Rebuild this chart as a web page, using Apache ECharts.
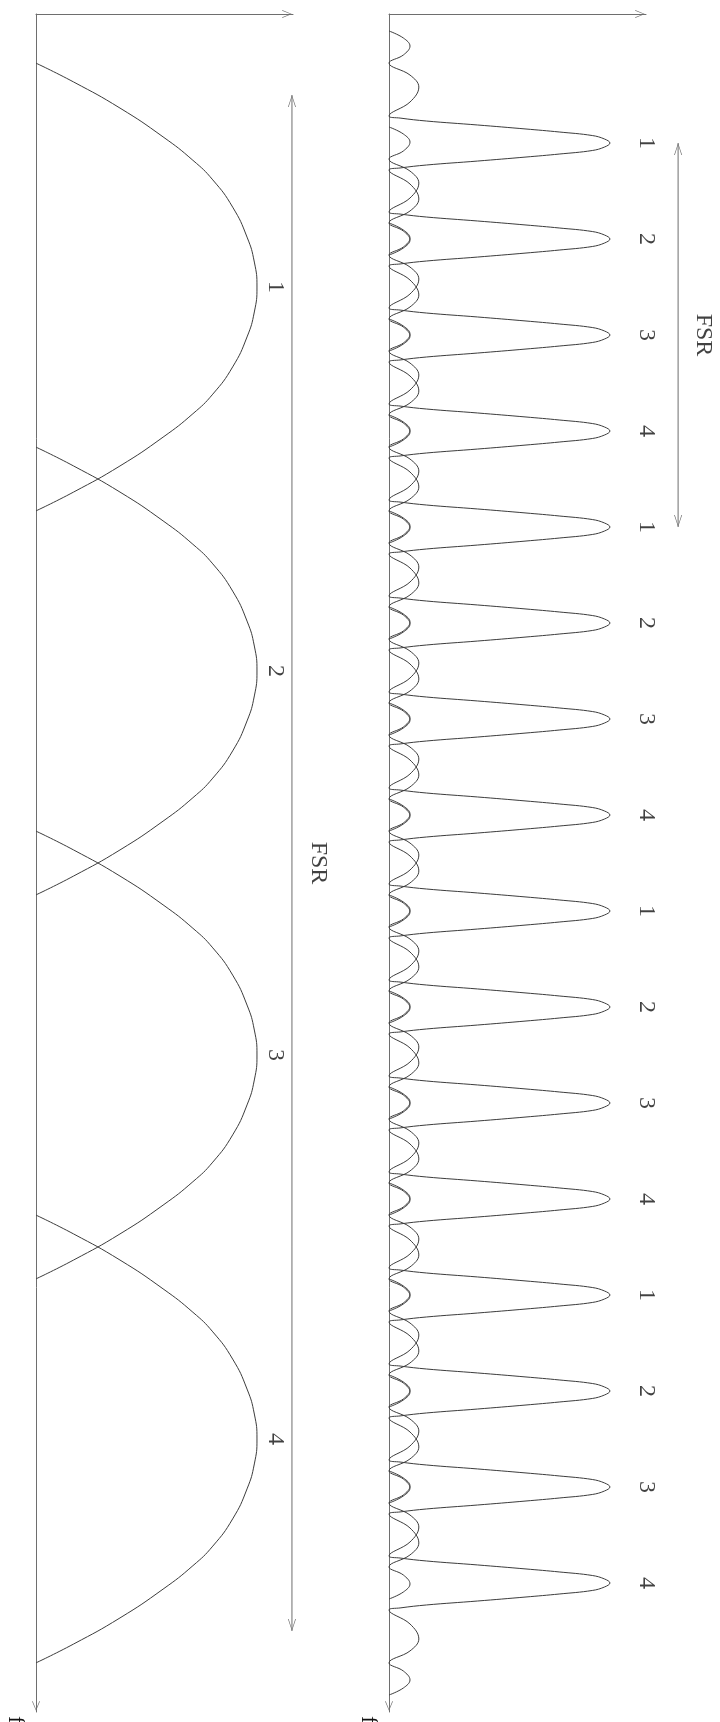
<!DOCTYPE html>
<html>
<head>
<meta charset="utf-8">
<script src="https://cdn.jsdelivr.net/npm/echarts@6/dist/echarts.min.js"></script>
<style>
  html, body { margin: 0; padding: 0; background: #fff; }
  #main { width: 720px; height: 1722px; }
</style>
</head>
<body>
<div id="main"></div>
<script>
// ---- data (frequency in channel spacings, level relative to peak) ----

// left: 4 wide channel passbands
var leftPeaks = [1, 2, 3, 4];
var leftNames = ['1', '2', '3', '4'];
// half profile of one passband (offset from its centre, level)
var leftOffset = [0, 0.065, 0.130, 0.208, 0.279, 0.330, 0.391, 0.466, 0.534, 0.583];
var leftLevel  = [1, 0.988, 0.955, 0.89, 0.80, 0.71, 0.575, 0.38, 0.17, 0];
var leftFsr = [0.5, 4.5];

// right: 16 narrow peaks, channels 1..4 repeating
var rightPeaks = [1, 2, 3, 4, 5, 6, 7, 8, 9, 10, 11, 12, 13, 14, 15, 16];
var rightNames = ['1', '2', '3', '4', '1', '2', '3', '4', '1', '2', '3', '4', '1', '2', '3', '4'];
// half profile of one peak with its two side lobes
var rightOffset = [0, 0.042, 0.078, 0.115, 0.146, 0.188, 0.229, 0.26, 0.281, 0.427, 0.583, 0.708, 0.833, 0.917, 1.01, 1.094, 1.167];
var rightLevel  = [1, 0.975, 0.92, 0.77, 0.62, 0.40, 0.17, 0.05, 0, 0.095, 0.135, 0.095, 0, 0.065, 0.095, 0.065, 0];
var rightFsr = [1, 5];

var labelFont = '"Liberation Serif", "DejaVu Serif", serif';
var axisColor = '#6e6e6e';
var curveColor = '#3c3c3c';
var ARROW = 'path://M5,0 L10,12 L9.1,12 L5,1.8 L0.9,12 L0,12 Z';

var AMP_MAX = 1.163;   // visible amplitude axis
var ANN_MAX = 1.493;   // annotation space to the right of each panel
var L_MIN = 0.289, L_MAX = 4.711;
var R_MIN = -0.344, R_MAX = 17.344;

// mirror a half profile into a full curve around one centre frequency
function curve(centre, offs, levels) {
  var pts = [];
  for (var i = offs.length - 1; i > 0; i--) pts.push([levels[i], centre - offs[i]]);
  for (var j = 0; j < offs.length; j++) pts.push([levels[j], centre + offs[j]]);
  return pts;
}

var chart = echarts.init(document.getElementById('main'), null, { renderer: 'canvas' });

function ampAxis(grid) {
  return {
    gridIndex: grid, type: 'value', position: 'top', min: 0, max: AMP_MAX,
    axisLine: { show: true, onZero: false, symbol: ['none', ARROW], symbolSize: [8, 12], symbolOffset: [0, -6],
      lineStyle: { color: axisColor, width: 1 } },
    axisTick: { show: false }, axisLabel: { show: false }, splitLine: { show: false }
  };
}
function freqAxis(grid, mn, mx) {
  return {
    gridIndex: grid, type: 'value', inverse: true, min: mn, max: mx,
    axisLine: { show: true, onZero: false, symbol: [ARROW, 'none'], symbolSize: [8, 12], symbolOffset: [6, 0],
      lineStyle: { color: axisColor, width: 1 } },
    axisTick: { show: false }, axisLabel: { show: false }, splitLine: { show: false },
    name: 'f', nameLocation: 'end', nameGap: 4, nameRotate: -90,
    nameTextStyle: { fontFamily: labelFont, fontSize: 24, color: '#111', verticalAlign: 'top', padding: [9, 0, 0, 0] }
  };
}
function hiddenX(grid) { return { gridIndex: grid, type: 'value', min: 0, max: ANN_MAX, show: false }; }
function hiddenY(grid, mn, mx) { return { gridIndex: grid, type: 'value', inverse: true, min: mn, max: mx, show: false }; }

var series = [];
leftPeaks.forEach(function (p) {
  series.push({ type: 'line', xAxisIndex: 0, yAxisIndex: 0, data: curve(p, leftOffset, leftLevel),
    smooth: 0.5, showSymbol: false, silent: true, lineStyle: { color: curveColor, width: 1 } });
});
rightPeaks.forEach(function (p) {
  series.push({ type: 'line', xAxisIndex: 1, yAxisIndex: 1, data: curve(p, rightOffset, rightLevel),
    smooth: 0.4, showSymbol: false, silent: true, lineStyle: { color: curveColor, width: 1 } });
});

function labels(xi, x, peaks, names) {
  return { type: 'scatter', xAxisIndex: xi, yAxisIndex: xi, symbolSize: 0, silent: true,
    data: peaks.map(function (f, i) { return { name: names[i], value: [x, f] }; }),
    label: { show: true, position: 'inside', formatter: '{b}', rotate: -90,
      fontFamily: labelFont, fontSize: 24, color: '#111' } };
}
function fsrArrow(xi, x, ends) {
  return { type: 'line', xAxisIndex: xi, yAxisIndex: xi, silent: true,
    symbol: ARROW, symbolSize: [8, 12], showSymbol: true, showAllSymbol: true,
    lineStyle: { color: axisColor, width: 1 }, itemStyle: { color: axisColor, borderWidth: 0 },
    data: [
      { value: [x, ends[0]], symbolRotate: 0, symbolOffset: [0, 6] },
      { value: [x, ends[1]], symbolRotate: 180, symbolOffset: [0, -6] }
    ] };
}
series.push(labels(2, 1.081, leftPeaks, leftNames));
series.push(labels(3, 1.163, rightPeaks, rightNames));
series.push(fsrArrow(2, 1.158, leftFsr));
series.push(fsrArrow(3, 1.308, rightFsr));
series.push(labels(2, 1.276, [(leftFsr[0] + leftFsr[1]) / 2], ['FSR']));
series.push(labels(3, 1.421, [(rightFsr[0] + rightFsr[1]) / 2], ['FSR']));

chart.setOption({
  animation: false,
  backgroundColor: '#fff',
  grid: [
    { left: 36, top: 14, width: 257, height: 1698, outerBoundsMode: 'none' },
    { left: 389, top: 14, width: 257, height: 1698, outerBoundsMode: 'none' },
    { left: 36, top: 14, width: 330, height: 1698, outerBoundsMode: 'none' },
    { left: 389, top: 14, width: 330, height: 1698, outerBoundsMode: 'none' }
  ],
  xAxis: [ampAxis(0), ampAxis(1), hiddenX(2), hiddenX(3)],
  yAxis: [freqAxis(0, L_MIN, L_MAX), freqAxis(1, R_MIN, R_MAX), hiddenY(2, L_MIN, L_MAX), hiddenY(3, R_MIN, R_MAX)],
  series: series
});
</script>
</body>
</html>
